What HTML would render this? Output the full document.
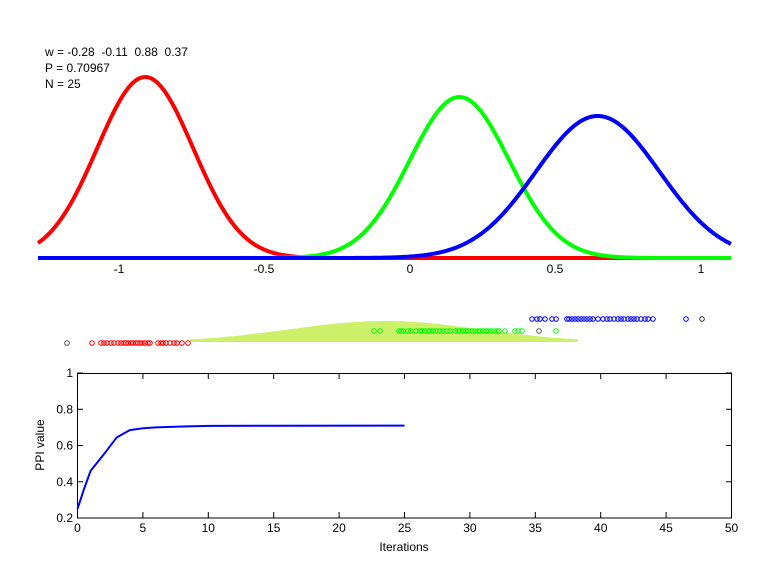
<!DOCTYPE html>
<html><head><meta charset="utf-8"><style>
body{margin:0;background:#fff;}
svg{display:block;font-family:"Liberation Sans",Arial,sans-serif;}
text{white-space:pre;}
</style></head><body>
<svg id="s" width="769" height="576" viewBox="0 0 769 576" xmlns="http://www.w3.org/2000/svg">
<rect width="769" height="576" fill="#fff"/>
<g font-size="12" fill="#000">
<text x="45" y="56" xml:space="preserve">w = -0.28  -0.11  0.88  0.37</text>
<text x="45" y="72">P = 0.70967</text>
<text x="45" y="88">N = 25</text>
</g>
<g id="top"></g>
<g font-size="12" text-anchor="middle">
<text x="119" y="273">-1</text><text x="264" y="273">-0.5</text><text x="410" y="273">0</text><text x="555" y="273">0.5</text><text x="701" y="273">1</text>
</g>
<g id="mid"></g>
<g id="bot"></g>
</svg>
<script>
var NS="http://www.w3.org/2000/svg";
function el(p,t,a){var e=document.createElementNS(NS,t);for(var k in a)e.setAttribute(k,a[k]);p.appendChild(e);return e;}
var top_=document.getElementById('top');
function gauss(mu,s,h,col){var d="";for(var px=38;px<=731;px++){var x=(px-410)/291;var y=258-h*Math.exp(-(x-mu)*(x-mu)/(2*s*s));d+=(px==38?"M":"L")+px+" "+y.toFixed(2);}
el(top_,"path",{d:d,fill:"none",stroke:col,"stroke-width":4});}
gauss(-0.91,0.165,181,"#f00");
gauss(0.17,0.171,161,"#0f0");
gauss(0.645,0.213,142,"#00f");
var mid=document.getElementById('mid');
var fd="M190 342";for(var px=190;px<=578;px+=4){var y=342-21*Math.exp(-Math.pow((px-385)/95,2)/2);fd+="L"+px+" "+y.toFixed(1);}fd+="L578 342Z";
el(mid,"path",{d:fd,fill:"#cdf06a"});
function circ(xs,y,c){xs.forEach(function(x){el(mid,"circle",{cx:x,cy:y,r:2.3,fill:"none",stroke:c,"stroke-width":1});});}
circ([67],343,"#555");
circ([92,101,104,107,111,114,118,121,124,126,128,131,133,136,138,140,142,145,148,150,158,161,163,166,170,174,177,182,188],343,"#f00");
circ([374,380,399,401,403,408,411,416,420,422,425,428,430,433,436,440,443,447,450,455,458,460,463,466,468,472,475,478,480,483,486,488,491,494,497,499,505,515,518,522,556],331,"#0f0");
circ([539],331,"#555");
circ([532,537,540,545,552,556,567,569,572,575,578,581,584,587,590,593,598,603,607,610,614,618,621,624,628,631,634,637,641,645,648,653,686],319,"#00f");
circ([702],319,"#333");
var bot=document.getElementById('bot');
el(bot,"rect",{x:77.5,y:373.5,width:654,height:144.5,fill:"none",stroke:"#000","stroke-width":1});
function X(v){return 77.5+v*13.08;} function Y(v){return 518-(v-0.2)*181.25;}
for(var i=0;i<=10;i++){var x=X(i*5);el(bot,"line",{x1:x,y1:518,x2:x,y2:512,stroke:"#000"});el(bot,"line",{x1:x,y1:373.5,x2:x,y2:379,stroke:"#000"});
var t=el(bot,"text",{x:x,y:532,"font-size":12,"text-anchor":"middle"});t.textContent=i*5;}
[0.2,0.4,0.6,0.8,1].forEach(function(v){var y=Y(v);el(bot,"line",{x1:77.5,y1:y,x2:83,y2:y,stroke:"#000"});el(bot,"line",{x1:732,y1:y,x2:726,y2:y,stroke:"#000"});
var t=el(bot,"text",{x:73,y:y+4,"font-size":12,"text-anchor":"end"});t.textContent=(v==1?"1":String(v));});
var pts=[[0,0.25],[0.5,0.36],[1,0.46],[2,0.55],[3,0.645],[4,0.685],[5,0.695],[6,0.70],[8,0.705],[10,0.708],[15,0.709],[25,0.71]];
el(bot,"polyline",{points:pts.map(function(p){return X(p[0])+","+Y(p[1]);}).join(" "),fill:"none",stroke:"#00f","stroke-width":2});
var t=el(bot,"text",{x:404,y:551,"font-size":12,"text-anchor":"middle"});t.textContent="Iterations";
t=el(bot,"text",{x:0,y:0,"font-size":12,"text-anchor":"middle",transform:"translate(44,445) rotate(-90)"});t.textContent="PPI value";
</script>
</body></html>
